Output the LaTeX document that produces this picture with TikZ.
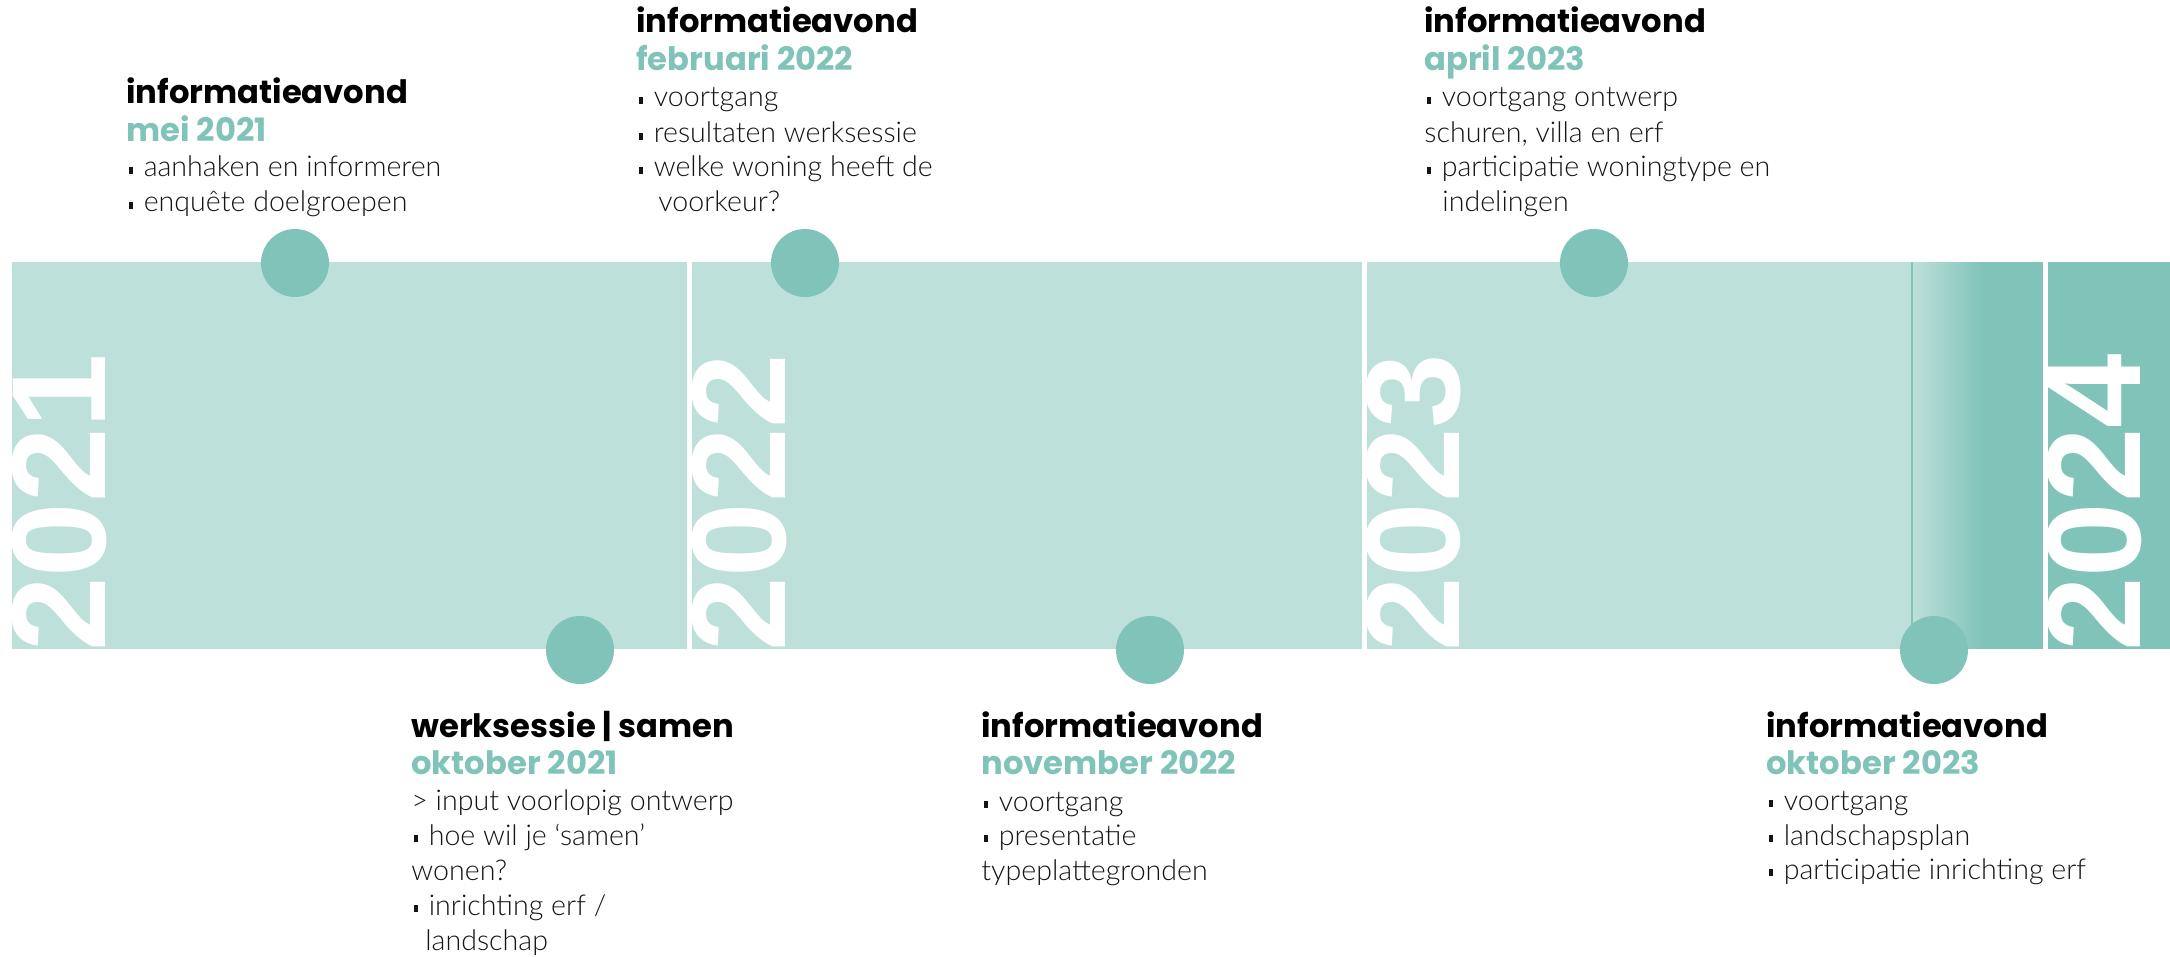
\documentclass[tikz,border=0pt]{standalone}
\usepackage{fontspec}
\newfontfamily\hfont{Poppins Bold}
\newfontfamily\bfont{Lato Light}
\newfontfamily\yfont{Liberation Sans Bold}
\definecolor{bandlight}{RGB}{190,224,218}
\definecolor{tdark}{RGB}{128,195,184}
\definecolor{bodyink}{RGB}{20,20,20}
\newcommand{\bul}{\hspace{1.2pt}\rule[1.5pt]{2.3pt}{3.3pt}\hspace{5.2pt}}
\begin{document}
\begin{tikzpicture}[x=0.5pt,y=-0.5pt,
  head/.style={anchor=base west, inner sep=0pt, font=\hfont\fontsize{16.1}{16.1}\selectfont, text=black},
  month/.style={head, text=tdark},
  body/.style={anchor=base west, inner sep=0pt, font=\bfont\fontsize{14.3}{14.3}\selectfont, text=bodyink},
  yearlbl/.style={anchor=base west, inner sep=0pt, rotate=90, font=\yfont\fontsize{67}{67}\selectfont, text=white},
  dot/.style={circle, fill=tdark, minimum size=34pt, inner sep=0pt}]
\useasboundingbox (0,0) rectangle (2170,957);
% band segments
\fill[bandlight] (12,262) rectangle (687,649);
\fill[bandlight] (692,262) rectangle (1362,649);
\fill[bandlight] (1367,262) rectangle (2043,649);
\foreach \i in {0,...,71} {
  \pgfmathsetmacro\p{100*\i/71}
  \fill[tdark!\p!bandlight] (1912+\i,262) rectangle (1913.5+\i,649);
}
\fill[tdark] (1983,262) rectangle (2043,649);
\fill[tdark] (2048,262) rectangle (2170,649);
\draw[tdark, line width=0.6pt] (1912,262) -- (1912,649);
% year labels
\begin{scope}
\clip (12,262) rectangle (687,649);
\node[yearlbl] (y21) at (105,652) {2021};
\end{scope}
\begin{scope}
\clip (692,262) rectangle (1362,649);
\node[yearlbl] (y22) at (785,652) {2022};
\end{scope}
\begin{scope}
\clip (1367,262) rectangle (2043,649);
\node[yearlbl] (y23) at (1459,652) {2023};
\end{scope}
\begin{scope}
\clip (2048,262) rectangle (2170,649);
\node[yearlbl] (y24) at (2140,652) {2024};
\end{scope}
% dots
\node[dot] (d1) at (295,263) {};
\node[dot] (d2) at (805,263) {};
\node[dot] (d3) at (1594,263) {};
\node[dot] (d4) at (580,650) {};
\node[dot] (d5) at (1150,650) {};
\node[dot] (d6) at (1934,650) {};
% block A
\node[head] (a0) at (126,104) {informatieavond};
\node[month] (a1) at (126,142) {mei 2021};
\node[body] (a2) at (126,177) {\bul aanhaken en informeren};
\node[body] (a3) at (126,212) {\bul enquête doelgroepen};
% block B
\node[head] (b0) at (636,33) {informatieavond};
\node[month] (b1) at (636,71) {februari 2022};
\node[body] (b2) at (636,107) {\bul voortgang};
\node[body] (b3) at (636,143) {\bul resultaten werksessie};
\node[body] (b4) at (636,177) {\bul welke woning heeft de};
\node[body] (b5) at (658,212) {voorkeur?};
% block C
\node[head] (c0) at (1424,33) {informatieavond};
\node[month] (c1) at (1424,71) {april 2023};
\node[body] (c2) at (1424,107) {\bul voortgang ontwerp};
\node[body] (c3) at (1424,143) {schuren, villa en erf};
\node[body] (c4) at (1424,177) {\bul participatie woningtype en};
\node[body] (c5) at (1442,212) {indelingen};
% block D
\node[head] (e0) at (411,737) {werksessie | samen};
\node[month] (e1) at (411,774) {oktober 2021};
\node[body] (e2) at (411,810) {> input voorlopig ontwerp};
\node[body] (e3) at (411,845) {\bul hoe wil je ‘samen’};
\node[body] (e4) at (411,880) {wonen?};
\node[body] (e5) at (411,915) {\bul inrichting erf /};
\node[body] (e6) at (425,950) {landschap};
% block E
\node[head] (f0) at (981,737) {informatieavond};
\node[month] (f1) at (981,774) {november 2022};
\node[body] (f2) at (981,811) {\bul voortgang};
\node[body] (f3) at (981,845) {\bul presentatie};
\node[body] (f4) at (981,880) {typeplattegronden};
% block F
\node[head] (g0) at (1766,737) {informatieavond};
\node[month] (g1) at (1766,774) {oktober 2023};
\node[body] (g2) at (1766,810) {\bul voortgang};
\node[body] (g3) at (1766,845) {\bul landschapsplan};
\node[body] (g4) at (1766,879) {\bul participatie inrichting erf};
\end{tikzpicture}
\end{document}
